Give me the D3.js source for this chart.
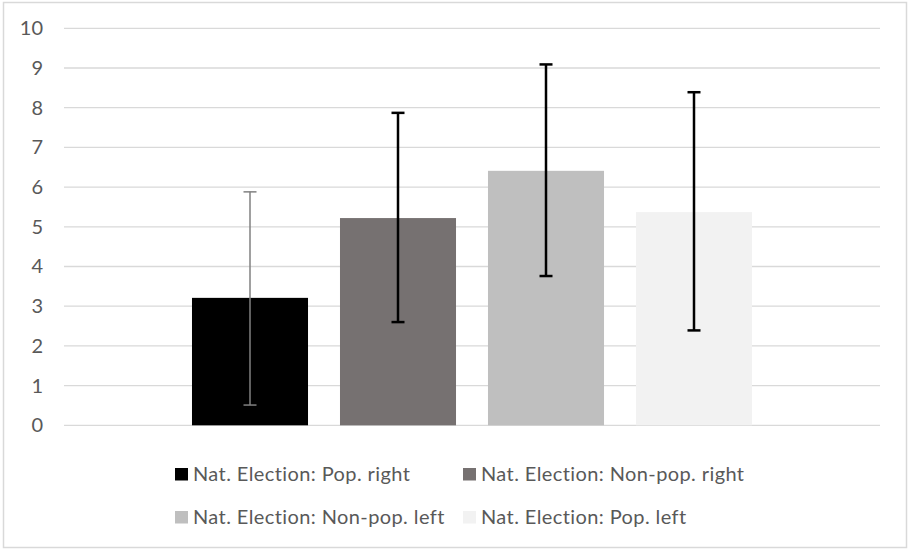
<!DOCTYPE html>
<html><head><meta charset="utf-8">
<script src="https://cdn.jsdelivr.net/npm/d3@7"></script>
<style>body{margin:0;background:#fff}svg{display:block}</style>
</head><body>
<svg id="c" width="911" height="552"></svg>
<script>
const series = ["Nat. Election: Pop. right","Nat. Election: Non-pop. right","Nat. Election: Non-pop. left","Nat. Election: Pop. left"];
const values = [3.21, 5.22, 6.41, 5.37];
const errHigh = [5.88, 7.87, 9.09, 8.39];
const errLow = [0.51, 2.60, 3.76, 2.39];
const colors = ["#000000","#767171","#BFBFBF","#F2F2F2"];
const errColors = ["#808080","#000000","#000000","#000000"];
const errWidths = [1.5, 2.5, 2.5, 2.5];
const yTicks = [0,1,2,3,4,5,6,7,8,9,10];

const svg = d3.select("#c");
const font = "Lato, 'Open Sans', sans-serif";
svg.append("rect").attr("x",3.5).attr("y",2.5).attr("width",903).attr("height",545)
  .attr("fill","#fff").attr("stroke","#d9d9d9").attr("stroke-width",1.5);

const y = d3.scaleLinear().domain([0,10]).range([425.3,28.3]);
const x = d3.scaleBand().domain(series).range([176,768]).paddingInner(0.216).paddingOuter(0.108);

// gridlines
svg.append("g").selectAll("line").data(yTicks).join("line")
  .attr("x1",64).attr("x2",880).attr("y1",d=>y(d)).attr("y2",d=>y(d))
  .attr("stroke","#d9d9d9").attr("stroke-width",1.3);

// y axis labels
const ax = svg.append("g").attr("transform","translate(43,0)")
  .call(d3.axisLeft(y).tickValues(yTicks).tickSize(0).tickPadding(0).tickFormat(d3.format("d")));
ax.select(".domain").remove();
ax.selectAll("text").attr("fill","#595959").style("font-family",font).style("font-size","20px");

// bars
svg.append("g").selectAll("rect").data(series).join("rect")
  .attr("x",d=>x(d)).attr("width",x.bandwidth())
  .attr("y",(d,i)=>y(values[i])).attr("height",(d,i)=>y(0)-y(values[i]))
  .attr("fill",(d,i)=>colors[i]);

// error bars
const eg = svg.append("g");
series.forEach((s,i)=>{
  const cx = x(s)+x.bandwidth()/2;
  const g = eg.append("g").attr("stroke",errColors[i]).attr("stroke-width",errWidths[i]);
  g.append("line").attr("x1",cx).attr("x2",cx).attr("y1",y(errLow[i])).attr("y2",y(errHigh[i]));
  g.append("line").attr("x1",cx-6.5).attr("x2",cx+6.5).attr("y1",y(errHigh[i])).attr("y2",y(errHigh[i]));
  g.append("line").attr("x1",cx-6.5).attr("x2",cx+6.5).attr("y1",y(errLow[i])).attr("y2",y(errLow[i]));
});

// legend
const legPos = [[175,468],[463,468],[175,511],[463,511]];
const lg = svg.append("g").selectAll("g").data(series).join("g")
  .attr("transform",(d,i)=>`translate(${legPos[i][0]},${legPos[i][1]})`);
lg.append("rect").attr("width",13).attr("height",12.5).attr("fill",(d,i)=>colors[i]);
lg.append("text").attr("x",18).attr("y",13).text(d=>d)
  .attr("fill","#595959").style("font-family",font).style("font-size","20px").style("letter-spacing","0.4px");
</script>
</body></html>
